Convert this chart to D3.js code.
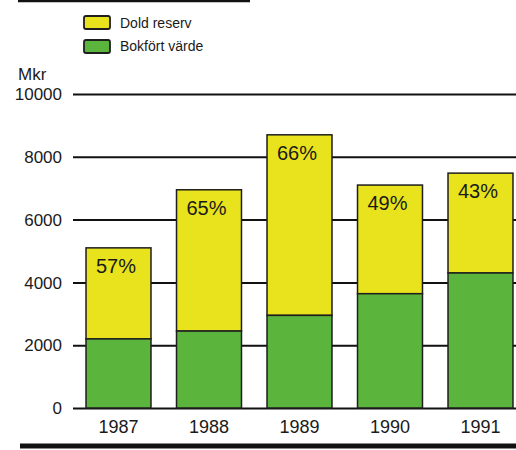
<!DOCTYPE html>
<html><head><meta charset="utf-8">
<script src="https://cdn.jsdelivr.net/npm/d3@7"></script>
<style>body{margin:0;background:#fff}svg{display:block}
text{font-family:"Liberation Sans Narrow","Arial Narrow","Liberation Sans",Arial,sans-serif;fill:#1a1a1a}</style>
</head><body><svg id="c" width="516" height="450"></svg>
<script>
const years = ["1987","1988","1989","1990","1991"];
const bokfort = [2200, 2450, 2950, 3640, 4300];
const totals = [5100, 6950, 8700, 7100, 7480];
const pctLabels = ["57%","65%","66%","49%","43%"];
const yTicks = [0,2000,4000,6000,8000,10000];
const legendLabels = ["Dold reserv","Bokfört värde"];
const unitLabel = "Mkr";

const svg = d3.select("#c");
const yellow = "#e8e31c", green = "#5bb53c", stroke = "#1e1e1e";

const y = d3.scaleLinear().domain([0,10000]).range([408,94]);
const x = d3.scaleBand().domain(years).range([73.25,525.75]).paddingInner(0.282).paddingOuter(0.141);

// frame lines
svg.append("line").attr("x1",18).attr("x2",250).attr("y1",1).attr("y2",1).attr("stroke","#111").attr("stroke-width",2.5);
svg.append("line").attr("x1",20).attr("x2",516).attr("y1",446).attr("y2",446).attr("stroke","#111").attr("stroke-width",5);

// gridlines via axis
const yAxis = d3.axisRight(y).tickValues(yTicks).tickSize(516-73).tickFormat("");
const ga = svg.append("g").attr("transform","translate(73,0)").call(yAxis);
ga.select(".domain").remove();
ga.selectAll("line").attr("stroke","#111").attr("stroke-width",2);

// tick labels
svg.selectAll(".yl").data(yTicks).join("text").attr("class","yl")
  .attr("x",62).attr("y",d=>y(d)).attr("dy","0.36em").attr("text-anchor","end")
  .attr("font-size",17).text(d=>d);
svg.append("text").attr("x",18).attr("y",80).attr("font-size",17).text(unitLabel);

// bars
const g = svg.append("g");
years.forEach((yr,i)=>{
  g.append("rect").attr("x",x(yr)).attr("width",x.bandwidth())
    .attr("y",y(totals[i])).attr("height",y(bokfort[i])-y(totals[i]))
    .attr("fill",yellow).attr("stroke",stroke).attr("stroke-width",1.5);
  g.append("rect").attr("x",x(yr)).attr("width",x.bandwidth())
    .attr("y",y(bokfort[i])).attr("height",y(0)-y(bokfort[i]))
    .attr("fill",green).attr("stroke",stroke).attr("stroke-width",1.5);
  g.append("text").attr("x",x(yr)+10).attr("y",y(totals[i])+25)
    .attr("font-size",20).text(pctLabels[i]);
  g.append("text").attr("x",x(yr)+x.bandwidth()/2).attr("y",433)
    .attr("text-anchor","middle").attr("font-size",18).text(yr);
});

// legend
const leg = svg.append("g");
[yellow, green].forEach((c,i)=>{
  leg.append("rect").attr("x",84).attr("y",16+i*24).attr("width",26).attr("height",13)
    .attr("rx",2).attr("fill",c).attr("stroke",stroke).attr("stroke-width",1.8);
  leg.append("text").attr("x",120).attr("y",28+i*23)
    .attr("font-size",14).text(legendLabels[i]);
});
</script></body></html>
